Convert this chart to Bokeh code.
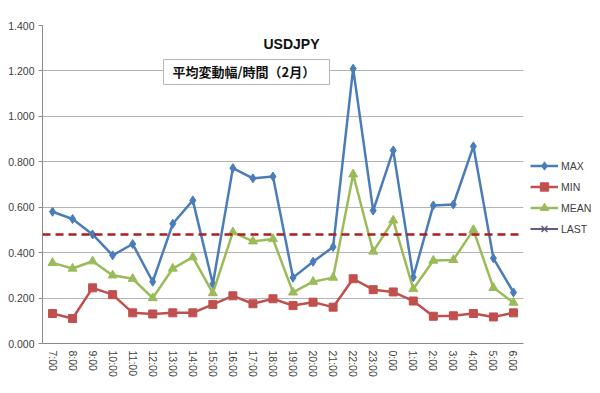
from bokeh.plotting import figure
from bokeh.models import (FactorRange, Range1d, Span, Legend, LegendItem, Label, BoxAnnotation,
                          NumeralTickFormatter, FixedTicker, ColumnDataSource)
from bokeh.embed import file_html
from bokeh.resources import INLINE

hours = ["7:00", "8:00", "9:00", "10:00", "11:00", "12:00", "13:00", "14:00",
         "15:00", "16:00", "17:00", "18:00", "19:00", "20:00", "21:00", "22:00",
         "23:00", "0:00", "1:00", "2:00", "3:00", "4:00", "5:00", "6:00"]
max_vals = [0.580, 0.548, 0.480, 0.388, 0.438, 0.272, 0.527, 0.630,
            0.262, 0.772, 0.727, 0.735, 0.290, 0.360, 0.425, 1.210,
            0.585, 0.850, 0.292, 0.608, 0.612, 0.868, 0.375, 0.225]
min_vals = [0.132, 0.110, 0.245, 0.215, 0.135, 0.130, 0.135, 0.135,
            0.172, 0.210, 0.175, 0.197, 0.167, 0.182, 0.160, 0.285,
            0.237, 0.227, 0.187, 0.120, 0.122, 0.132, 0.117, 0.135]
mean_vals = [0.355, 0.330, 0.362, 0.300, 0.285, 0.200, 0.330, 0.380,
             0.222, 0.490, 0.450, 0.460, 0.225, 0.272, 0.290, 0.745,
             0.405, 0.542, 0.240, 0.365, 0.368, 0.500, 0.245, 0.180]
last_value = 0.480
y_ticks = [0.0, 0.2, 0.4, 0.6, 0.8, 1.0, 1.2, 1.4]

src = ColumnDataSource(dict(h=hours, mx=max_vals, mn=min_vals, me=mean_vals))

p = figure(x_range=FactorRange(*hours, range_padding=0), y_range=Range1d(0, 1.4),
           frame_width=481, frame_height=318,
           min_border_left=42, min_border_right=77, min_border_top=25, min_border_bottom=50,
           output_backend="svg", toolbar_location=None)
p.outline_line_color = None
p.background_fill_color = "white"
p.border_fill_color = "white"

p.yaxis.ticker = FixedTicker(ticks=y_ticks)
p.yaxis.formatter = NumeralTickFormatter(format="0.000")
p.ygrid.grid_line_color = "#b4b4b4"
p.ygrid.grid_line_width = 1
p.xgrid.grid_line_color = None
for ax in (p.xaxis, p.yaxis):
    ax.axis_line_color = "#8a8a8a"
    ax.major_tick_line_color = "#8a8a8a"
    ax.minor_tick_line_color = None
    ax.major_label_text_font = "Liberation Sans"
    ax.major_label_text_font_size = "10.5px"
    ax.major_label_text_color = "#404040"
p.yaxis.major_tick_out = 4
p.yaxis.major_tick_in = 0
p.yaxis.major_label_standoff = 4
p.xaxis.major_tick_out = 0
p.xaxis.major_tick_in = 0
p.xaxis.major_label_orientation = "vertical"
p.xaxis.major_label_standoff = 7

span = Span(location=last_value, dimension="width", line_color="#a8201f",
            line_width=2.5, line_dash="8 5")
p.add_layout(span)

blue, red, green, purple = "#4a7cba", "#c0504d", "#9bbb59", "#5e5a8c"
l1 = p.line("h", "mx", source=src, line_color=blue, line_width=2.5)
s1 = p.scatter("h", "mx", source=src, marker="diamond", size=9, fill_color=blue, line_color=blue)
l2 = p.line("h", "mn", source=src, line_color=red, line_width=2.5)
s2 = p.scatter("h", "mn", source=src, marker="square", size=8, fill_color=red, line_color=red)
l3 = p.line("h", "me", source=src, line_color=green, line_width=2.5)
s3 = p.scatter("h", "me", source=src, marker="triangle", size=9, fill_color=green, line_color=green)

nan_src = ColumnDataSource(dict(h=[hours[0]], v=[float("nan")]))
l4 = p.line("h", "v", source=nan_src, line_color=purple, line_width=2)
s4 = p.scatter("h", "v", source=nan_src, marker="x", size=8, line_color=purple, line_width=1.5)

legend = Legend(items=[LegendItem(label="MAX", renderers=[l1, s1]),
                       LegendItem(label="MIN", renderers=[l2, s2]),
                       LegendItem(label="MEAN", renderers=[l3, s3]),
                       LegendItem(label="LAST", renderers=[l4, s4])],
                location=(7, 104), margin=0, padding=0, spacing=0,
                glyph_width=28, glyph_height=21, label_standoff=3,
                label_text_font="Liberation Sans", label_text_font_size="10.5px",
                label_text_color="#404040", border_line_color=None,
                background_fill_alpha=0)
p.add_layout(legend, "right")

title = Label(x=249, y=300, x_units="screen", y_units="screen", text="USDJPY",
              text_font="Liberation Sans", text_font_size="14px", text_font_style="bold",
              text_color="#111111", text_align="center", text_baseline="middle")
p.add_layout(title)

box = BoxAnnotation(left=121, right=287, top=284, bottom=259,
                    left_units="screen", right_units="screen", top_units="screen",
                    bottom_units="screen", fill_color="white", fill_alpha=1,
                    line_color="#b8b8b8", line_width=1, line_alpha=1)
p.add_layout(box)

sub = Label(x=130, y=272, x_units="screen", y_units="screen", text="平均変動幅/時間（2月）",
            text_font="Noto Sans CJK JP", text_font_size="13px", text_font_style="bold",
            text_color="#111111", text_align="left", text_baseline="middle")
p.add_layout(sub)

open("out.html", "w").write(file_html(p, INLINE))
